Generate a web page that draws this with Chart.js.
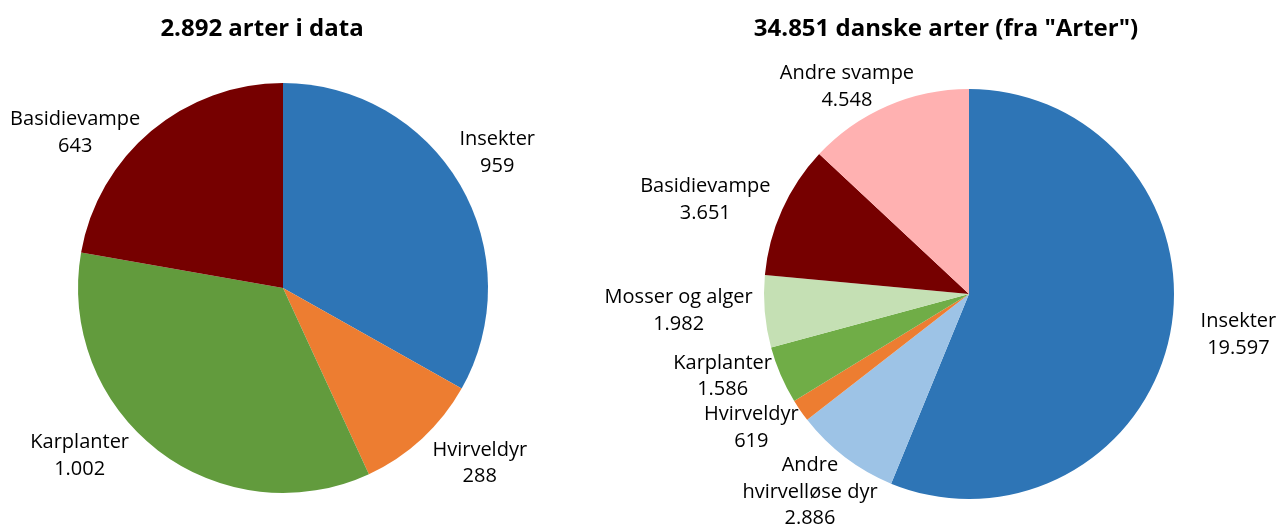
<!DOCTYPE html>
<html>
<head>
<meta charset="utf-8">
<script src="https://cdn.jsdelivr.net/npm/chart.js@4"></script>
<style>
  body { margin: 0; background: #fff; }
  .box { position: absolute; top: 0; height: 530px; }
</style>
</head>
<body>
<div class="box" style="left:0;width:640px"><canvas id="leftPie"></canvas></div>
<div class="box" style="left:560px;width:720px"><canvas id="rightPie"></canvas></div>
<script>
// data
const leftTitle = '2.892 arter i data';
const leftCategories = ['Insekter', 'Hvirveldyr', 'Karplanter', 'Basidievampe'];
const leftValues = [959, 288, 1002, 643];
const leftColors = ['#2E75B6', '#ED7D31', '#629B3D', '#760000'];

const rightTitle = '34.851 danske arter (fra "Arter")';
const rightCategories = ['Insekter', ['Andre', 'hvirvelløse dyr'], 'Hvirveldyr', 'Karplanter',
                         'Mosser og alger', 'Basidievampe', 'Andre svampe'];
const rightValues = [19597, 2886, 619, 1586, 1982, 3651, 4548];
const rightColors = ['#2E75B6', '#9DC3E6', '#ED7D31', '#70AD47', '#C5E0B4', '#760000', '#FFB1B1'];

// small nudges so labels land where excel put them
const leftNudge = [[-7, -6], [23, -13], [-47, -35], [-43, 41]];
const rightNudge = [[18, -9], [-4, -6], [-7, -12], [-11, -19], [-35, -5], [-30, 11], [-20, 28]];

const FONT = '"Open Sans", sans-serif';

function fmt(v) {
    return String(v).replace(/\B(?=(\d{3})+(?!\d))/g, '.');
}

function labelPlugin(cats, nudge, title, titleX) {
    return {
        id: 'pieLabels',
        afterDatasetsDraw(chart) {
            const ctx = chart.ctx;
            const meta = chart.getDatasetMeta(0);
            const vals = chart.data.datasets[0].data;
            ctx.save();
            ctx.fillStyle = '#000';
            ctx.textAlign = 'center';
            ctx.textBaseline = 'middle';
            ctx.font = '20px ' + FONT;
            meta.data.forEach(function(arc, i) {
                const mid = (arc.startAngle + arc.endAngle) / 2;
                const d = arc.outerRadius * 1.25;
                const x = arc.x + Math.cos(mid) * d + nudge[i][0];
                const y = arc.y + Math.sin(mid) * d + nudge[i][1];
                const lines = [].concat(cats[i], fmt(vals[i]));
                const lh = 26.5;
                const top = y - (lines.length - 1) * lh / 2;
                lines.forEach(function(t, j) {
                    ctx.fillText(t, x, top + j * lh);
                });
            });
            ctx.font = 'bold 24px ' + FONT;
            ctx.fillText(title, titleX, 29);
            ctx.restore();
        }
    };
}

function makePie(id, cats, vals, colors, padding, nudge, title, titleX) {
    return new Chart(document.getElementById(id), {
        type: 'pie',
        data: {
            labels: cats.map(c => [].concat(c).join(' ')),
            datasets: [{
                data: vals,
                backgroundColor: colors,
                borderWidth: 0
            }]
        },
        options: {
            responsive: true,
            maintainAspectRatio: false,
            animation: false,
            layout: { padding: padding },
            plugins: {
                legend: { display: false },
                tooltip: { enabled: false }
            }
        },
        plugins: [labelPlugin(cats, nudge, title, titleX)]
    });
}

makePie('leftPie', leftCategories, leftValues, leftColors,
        { left: 78, right: 152, top: 83, bottom: 37 }, leftNudge, leftTitle, 262);
makePie('rightPie', rightCategories, rightValues, rightColors,
        { left: 204, right: 106, top: 89, bottom: 31 }, rightNudge, rightTitle, 386);
</script>
</body>
</html>
